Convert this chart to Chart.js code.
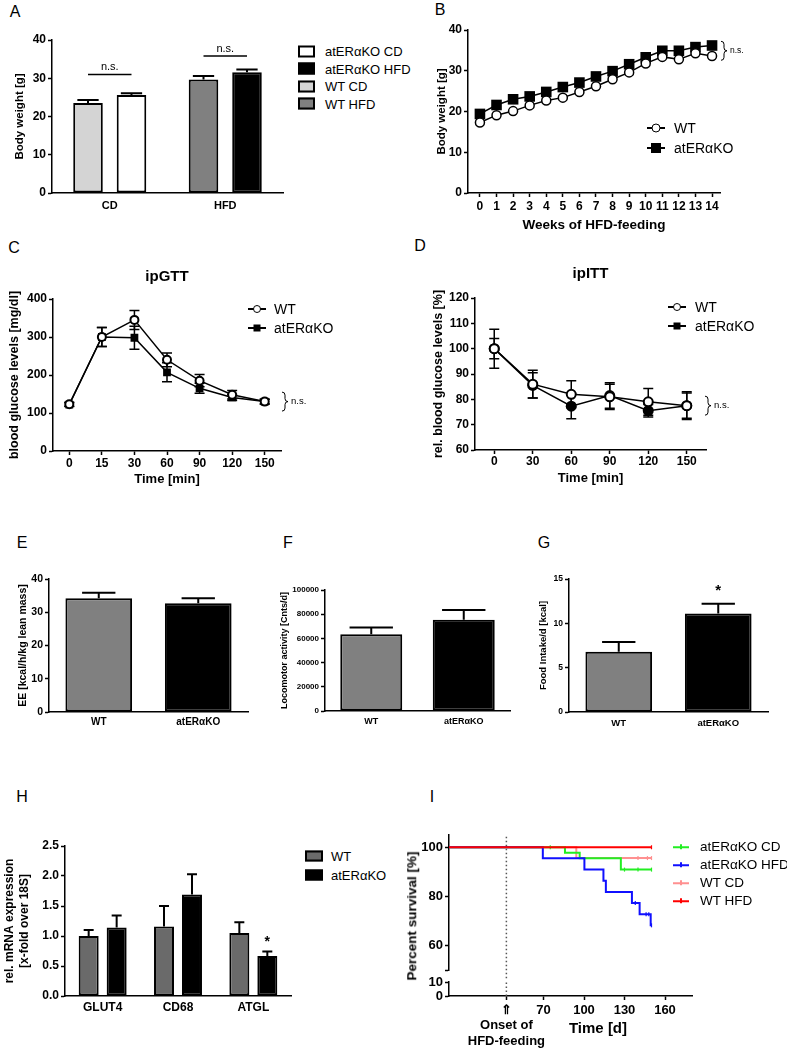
<!DOCTYPE html>
<html>
<head>
<meta charset="utf-8">
<script src="https://cdn.jsdelivr.net/npm/chart.js@4.4.1/dist/chart.umd.min.js"></script>
<style>
  body { margin: 0; width: 787px; height: 1049px; background: #fff; position: relative; overflow: hidden;
         font-family: "Liberation Sans", Arial, sans-serif; color: #000; }
  canvas { position: absolute; }
  .panel { position: absolute; font-size: 16px; line-height: 1; transform: translate(-50%, -50%); }
  .leg { position: absolute; display: flex; align-items: center; white-space: nowrap; line-height: 1; transform: translateY(-50%); }
  .lm { position: relative; display: inline-block; width: 18px; height: 12px; }
  .lm .ln { position: absolute; left: 0; right: 0; top: 5px; height: 2px; background: #000; }
  .lm .pt { position: absolute; left: 50%; top: 50%; transform: translate(-50%, -50%); box-sizing: border-box; }
  .free { position: absolute; font-weight: bold; white-space: nowrap; line-height: 1; }
</style>
</head>
<body>
<canvas id="chartA"></canvas>
<canvas id="chartB"></canvas>
<canvas id="chartC"></canvas>
<canvas id="chartD"></canvas>
<canvas id="chartE"></canvas>
<canvas id="chartF"></canvas>
<canvas id="chartG"></canvas>
<canvas id="chartH"></canvas>
<canvas id="chartI"></canvas>
<canvas id="chartI0"></canvas>

<script>
// ---------- data ----------
const dietGroups = ["CD", "HFD"];
const bwWT = [23.5, 29.7];
const bwWTErr = [0.8, 0.9];
const bwKO = [25.6, 31.6];
const bwKOErr = [0.5, 0.7];
const bwNs = [31.0, 35.8];

const weeks = [0, 1, 2, 3, 4, 5, 6, 7, 8, 9, 10, 11, 12, 13, 14];
const weightWT = [17.3, 19.1, 20.1, 21.5, 22.7, 23.4, 24.8, 26.2, 27.9, 29.6, 31.8, 33.4, 32.8, 34.3, 33.6];
const weightKO = [19.4, 21.6, 23.0, 23.7, 24.8, 26.0, 27.1, 28.6, 29.9, 31.6, 33.3, 34.9, 34.9, 35.8, 36.2];

const gttTimes = ["0", "15", "30", "60", "90", "120", "150"];
const gttWT = [123, 300, 345, 240, 185, 148, 130];
const gttWTErr = [5, 25, 25, 18, 16, 11, 6];
const gttKO = [122, 300, 298, 207, 165, 141, 130];
const gttKOErr = [5, 25, 30, 25, 13, 8, 6];

const ittTimes = ["0", "30", "60", "90", "120", "150"];
const ittWT = [100, 86, 82, 81, 79, 77.5];
const ittWTErr = [4, 5.5, 5.3, 5, 5.3, 5.5];
const ittKO = [100, 85.5, 77.3, 81.5, 75.5, 77.5];
const ittKOErr = [7.7, 5, 5, 5, 2.5, 5];

const genotypes = ["WT", "atERαKO"];
const eeVals = [34.2, 32.7];
const eeErr = [1.7, 1.5];
const locoVals = [63500, 75500];
const locoErr = [5500, 7900];
const foodVals = [6.8, 11.1];
const foodErr = [1.1, 1.1];

const genes = ["GLUT4", "CD68", "ATGL"];
const mrnaWT = [1.0, 1.16, 1.05];
const mrnaWTErr = [0.1, 0.34, 0.18];
const mrnaKO = [1.14, 1.69, 0.665];
const mrnaKOErr = [0.2, 0.34, 0.075];

const onsetDay = 42.5;
const survTicksUpper = [50, 60, 80, 100];
const survTicksLower = [0, 10];
const dayTicks = [onsetDay, 70, 100, 130, 160];
// [day, percent] at each drop; censored days separately
const survKOCD = [[0, 100], [85.9, 97.8], [96.8, 95.5], [127.3, 90.9], [150, 90.9]];
const survKOHFD = [[0, 100], [69.5, 95.5], [100.3, 90.9], [114.4, 86.4], [116.2, 81.8], [135.5, 77.3], [141.2, 72.7], [149.4, 68.2], [150, 68.2]];
const survWTCD = [[0, 100], [94.3, 95.6], [150, 95.6]];
const survWTHFD = [[0, 100], [150, 100]];
const censorKOCD = [75, 130, 140, 150];
const censorKOHFD = [138, 146, 148, 150];
const censorWTCD = [140, 147, 150];
const censorWTHFD = [150];

// ---------- helpers ----------
const FONT = '"Liberation Sans", Arial, sans-serif';
Chart.defaults.font.family = FONT;
Chart.defaults.color = "#000";

function place(id, plot, m) {
  const c = document.getElementById(id);
  c.width = m.l + plot[2] + m.r;
  c.height = m.t + plot[3] + m.b;
  c.style.left = (plot[0] - m.l) + "px";
  c.style.top = (plot[1] - m.t) + "px";
  return c;
}

function yLin(o) {
  const s = {
    min: o.min, max: o.max,
    afterFit: (sc) => { sc.width = o.w; },
    border: { color: "#000", width: 1.5 },
    grid: { drawOnChartArea: false, tickLength: 4, tickColor: "#000", tickWidth: 1.5 },
    ticks: { stepSize: o.step, autoSkip: false, padding: 2, color: "#000",
             font: { size: o.size, weight: "bold" }, callback: o.fmt || ((v) => v) }
  };
  if (o.ticksAt) s.afterBuildTicks = (sc) => { sc.ticks = o.ticksAt.map((v) => ({ value: v })); };
  if (o.title) {
    s.title = { display: true, text: o.title, color: "#000", padding: { top: o.tp, bottom: 0 },
                font: { size: o.ts, weight: "bold" } };
  }
  return s;
}

function xAxis(o) {
  const s = {
    offset: o.offset !== false,
    afterFit: (sc) => { sc.height = o.h; },
    border: { color: "#000", width: 1.5 },
    grid: o.marks
      ? { drawOnChartArea: false, tickLength: 4, tickColor: "#000", tickWidth: 1.5 }
      : { display: false, drawTicks: false },
    ticks: { autoSkip: false, maxRotation: 0, padding: o.pad, color: "#000",
             font: { size: o.size, weight: "bold" } }
  };
  if (o.title) {
    s.title = { display: true, text: o.title, color: "#000", padding: { top: 0, bottom: o.tpad },
                font: { size: o.ts, weight: "bold" } };
  }
  return s;
}

function base(extra) {
  const o = {
    responsive: false,
    animation: false,
    events: []
  };
  Object.assign(o, extra);
  o.plugins = Object.assign({ legend: { display: false }, tooltip: { enabled: false } }, extra.plugins || {});
  return o;
}

function drawBrace(ctx, x, y1, y2, w) {
  const ym = (y1 + y2) / 2, q = w / 2;
  ctx.beginPath();
  ctx.moveTo(x, y1);
  ctx.quadraticCurveTo(x + q, y1, x + q, y1 + q);
  ctx.lineTo(x + q, ym - q);
  ctx.quadraticCurveTo(x + q, ym, x + w, ym);
  ctx.quadraticCurveTo(x + q, ym, x + q, ym + q);
  ctx.lineTo(x + q, y2 - q);
  ctx.quadraticCurveTo(x + q, y2, x, y2);
  ctx.stroke();
}

// Kaplan-Meier points: drops plus censor marks sitting on the current level
function kmPoints(steps, censor) {
  const pts = steps.map(([x, y]) => ({ x, y, c: false }));
  censor.forEach((t) => {
    const level = steps.filter(([x]) => x <= t).pop()[1];
    pts.push({ x: t, y: level, c: true });
  });
  return pts.sort((a, b) => a.x - b.x);
}

// error bars drawn under the marks, from each dataset's own errors array
Chart.register({
  id: "errorBars",
  beforeDatasetsDraw(chart, args, opts) {
    const ctx = chart.ctx, y = chart.scales.y;
    ctx.save();
    ctx.strokeStyle = "#000";
    ctx.lineWidth = opts.lineWidth || 1.5;
    chart.data.datasets.forEach((ds, i) => {
      if (!ds.errors) return;
      chart.getDatasetMeta(i).data.forEach((el, j) => {
        const v = ds.data[j], e = ds.errors[j];
        const top = y.getPixelForValue(v + e);
        const bot = y.getPixelForValue(opts.upOnly ? v : v - e);
        const half = opts.cap || (el.width * opts.capFrac) / 2;
        ctx.beginPath();
        ctx.moveTo(el.x, top); ctx.lineTo(el.x, bot);
        ctx.moveTo(el.x - half, top); ctx.lineTo(el.x + half, top);
        if (!opts.upOnly) { ctx.moveTo(el.x - half, bot); ctx.lineTo(el.x + half, bot); }
        ctx.stroke();
      });
    });
    ctx.restore();
  }
});

// n.s. lines, braces and stars
Chart.register({
  id: "notes",
  afterDatasetsDraw(chart, args, opts) {
    const items = opts.items || [];
    const { ctx, chartArea } = chart;
    const y = chart.scales.y;
    ctx.save();
    ctx.strokeStyle = "#000";
    ctx.fillStyle = "#000";
    items.forEach((it) => {
      if (it.type === "sig") {
        const a = chart.getDatasetMeta(0).data[it.cat], b = chart.getDatasetMeta(1).data[it.cat];
        const py = y.getPixelForValue(it.y);
        ctx.lineWidth = 1.5;
        ctx.beginPath(); ctx.moveTo(a.x, py); ctx.lineTo(b.x, py); ctx.stroke();
        ctx.font = it.size + "px " + FONT;
        ctx.textAlign = "center"; ctx.textBaseline = "bottom";
        ctx.fillText(it.text, (a.x + b.x) / 2, py - 2);
      } else if (it.type === "brace") {
        const ends = chart.data.datasets.slice(0, 2).map((ds) => {
          const last = ds.data[ds.data.length - 1];
          return y.getPixelForValue(typeof last === "object" ? last.y : last);
        });
        const mid = (ends[0] + ends[1]) / 2;
        const x0 = chartArea.right + it.dx;
        ctx.lineWidth = 1;
        drawBrace(ctx, x0, mid - it.h / 2, mid + it.h / 2, 6);
        ctx.font = it.size + "px " + FONT;
        ctx.textAlign = "left"; ctx.textBaseline = "middle";
        ctx.fillText(it.text, x0 + 9, mid);
      } else if (it.type === "star") {
        const ds = chart.data.datasets[it.ds];
        const el = chart.getDatasetMeta(it.ds).data[it.index];
        const py = y.getPixelForValue(ds.data[it.index] + ds.errors[it.index]) - it.gap;
        ctx.font = "bold " + it.size + "px " + FONT;
        ctx.textAlign = "center"; ctx.textBaseline = "middle";
        ctx.fillText(it.text, el.x, py);
      }
    });
    ctx.restore();
  }
});

function addText(cls, html, x, y, style) {
  const d = document.createElement("div");
  d.className = cls;
  d.innerHTML = html;
  d.style.left = x + "px";
  d.style.top = y + "px";
  if (style) Object.assign(d.style, style);
  document.body.appendChild(d);
  return d;
}

function legend(x, y, step, size, rows) {
  rows.forEach((r, i) => {
    addText("leg", r.mark + "<span>" + r.text + "</span>", x, y + i * step, { fontSize: size + "px" });
  });
}
const box = (c, w, h, gap) =>
  `<i style="display:inline-block;box-sizing:border-box;width:${w}px;height:${h}px;border:2px solid #000;background:${c};margin-right:${gap}px"></i>`;
const linePt = (shape, s, gap) =>
  `<i class="lm" style="margin-right:${gap}px"><b class="ln"></b><b class="pt" style="width:${s}px;height:${s}px;` +
  (shape === "circle" ? "border:1.5px solid #000;background:#fff;border-radius:50%" : "background:#000") + `"></b></i>`;
const colLine = (c, gap) =>
  `<i style="position:relative;display:inline-block;width:16px;height:2px;background:${c};margin-right:${gap}px">` +
  `<b style="position:absolute;left:7px;top:-1.5px;width:1.5px;height:5px;background:${c}"></b></i>`;

// ---------- panel letters ----------
[["A", 15, 12], ["B", 440, 10], ["C", 14, 248], ["D", 420, 246], ["E", 22, 543],
 ["F", 288, 543], ["G", 544, 543], ["H", 22, 797], ["I", 432, 797]].forEach(([t, x, y]) => addText("panel", t, x, y));

// ---------- A: body weight bars ----------
new Chart(place("chartA", [52, 40, 231, 153], { l: 52, t: 12, r: 6, b: 26 }), {
  type: "bar",
  data: {
    labels: dietGroups,
    datasets: [
      { label: "WT", data: bwWT, errors: bwWTErr, backgroundColor: ["#d4d4d4", "#808080"],
        borderColor: "#000", borderWidth: 2, borderSkipped: false, categoryPercentage: 0.753, barPercentage: 0.68 },
      { label: "atERαKO", data: bwKO, errors: bwKOErr, backgroundColor: ["#ffffff", "#000000"],
        borderColor: "#000", borderWidth: 2, borderSkipped: false, categoryPercentage: 0.753, barPercentage: 0.68 }
    ]
  },
  options: base({
    layout: { padding: { top: 12, right: 6 } },
    scales: {
      x: xAxis({ h: 26, size: 11, pad: 6 }),
      y: yLin({ w: 52, min: 0, max: 40, step: 10, size: 12, title: "Body weight [g]", ts: 11.5, tp: 13 })
    },
    plugins: {
      errorBars: { upOnly: true, capFrac: 0.72, lineWidth: 2 },
      notes: { items: bwNs.map((v, i) => ({ type: "sig", cat: i, y: v, text: "n.s.", size: 11 })) }
    }
  })
});
legend(298, 51, 17.6, 13, [
  { mark: box("#fff", 17, 12, 10), text: "atERαKO CD" },
  { mark: box("#000", 17, 12, 10), text: "atERαKO HFD" },
  { mark: box("#d4d4d4", 17, 12, 10), text: "WT CD" },
  { mark: box("#808080", 17, 12, 10), text: "WT HFD" }
]);

// ---------- B: weight curve ----------
new Chart(place("chartB", [468, 30, 252, 163], { l: 50, t: 12, r: 45, b: 42 }), {
  type: "line",
  data: {
    datasets: [
      { label: "WT", data: weeks.map((w, i) => ({ x: w, y: weightWT[i] })), borderColor: "#000", borderWidth: 1.5,
        pointStyle: "circle", pointRadius: 4.5, pointBorderWidth: 1.5, pointBackgroundColor: "#fff", pointBorderColor: "#000" },
      { label: "atERαKO", data: weeks.map((w, i) => ({ x: w, y: weightKO[i] })), borderColor: "#000", borderWidth: 1.5,
        pointStyle: "rect", pointRadius: 7.5, pointBorderWidth: 0, pointBackgroundColor: "#000" }
    ]
  },
  options: base({
    layout: { padding: { top: 12, right: 45 } },
    scales: {
      x: Object.assign(xAxis({ h: 42, size: 12, pad: 2, marks: true, offset: false, title: "Weeks of HFD-feeding", ts: 13.5, tpad: 2 }),
        { type: "linear", min: -0.72, max: 14.48, afterBuildTicks: (sc) => { sc.ticks = weeks.map((v) => ({ value: v })); } }),
      y: yLin({ w: 50, min: 0, max: 40, step: 10, size: 12, title: "Body weight [g]", ts: 11.5, tp: 17 })
    },
    plugins: { notes: { items: [{ type: "brace", dx: 1, h: 19, text: "n.s.", size: 8.5 }] } }
  })
});
legend(647, 128, 20, 14, [
  { mark: linePt("circle", 9, 9), text: "WT" },
  { mark: linePt("rect", 10, 9), text: "atERαKO" }
]);

// ---------- C: ipGTT ----------
new Chart(place("chartC", [53, 299, 228, 152], { l: 53, t: 40, r: 40, b: 40 }), {
  type: "line",
  data: {
    labels: gttTimes,
    datasets: [
      { label: "WT", data: gttWT, errors: gttWTErr, borderColor: "#000", borderWidth: 1.5,
        pointStyle: "circle", pointRadius: 4, pointBorderWidth: 2, pointBackgroundColor: "#fff", pointBorderColor: "#000" },
      { label: "atERαKO", data: gttKO, errors: gttKOErr, borderColor: "#000", borderWidth: 1.5,
        pointStyle: "rect", pointRadius: 5.5, pointBorderWidth: 0, pointBackgroundColor: "#000" }
    ]
  },
  options: base({
    layout: { padding: { top: 0, right: 40 } },
    scales: {
      x: xAxis({ h: 40, size: 12, pad: 1, marks: true, title: "Time [min]", ts: 13, tpad: 4 }),
      y: yLin({ w: 53, min: 0, max: 400, step: 100, size: 12, title: "blood glucose levels [mg/dl]", ts: 12.5, tp: 7.5 })
    },
    plugins: {
      title: { display: true, text: "ipGTT", fullSize: false, color: "#000", padding: { top: 9, bottom: 13 }, font: { size: 15, weight: "bold" } },
      errorBars: { cap: 5, lineWidth: 1.5 },
      notes: { items: [{ type: "brace", dx: 1, h: 19, text: "n.s.", size: 9.5 }] }
    }
  })
});
legend(248, 309, 19, 14, [
  { mark: linePt("circle", 8, 8), text: "WT" },
  { mark: linePt("rect", 7, 8), text: "atERαKO" }
]);

// ---------- D: ipITT ----------
new Chart(place("chartD", [475, 298, 231, 152], { l: 45, t: 40, r: 45, b: 40 }), {
  type: "line",
  data: {
    labels: ittTimes,
    datasets: [
      { label: "WT", data: ittWT, errors: ittWTErr, borderColor: "#000", borderWidth: 1.5,
        pointStyle: "circle", pointRadius: 4.5, pointBorderWidth: 2, pointBackgroundColor: "#fff", pointBorderColor: "#000" },
      { label: "atERαKO", data: ittKO, errors: ittKOErr, borderColor: "#000", borderWidth: 1.5,
        pointStyle: "circle", pointRadius: 5.5, pointBorderWidth: 0, pointBackgroundColor: "#000" }
    ]
  },
  options: base({
    layout: { padding: { top: 0, right: 45 } },
    scales: {
      x: xAxis({ h: 40, size: 12, pad: 0.5, marks: true, title: "Time [min]", ts: 13, tpad: 4 }),
      y: yLin({ w: 45, min: 60, max: 120, step: 10, size: 12, title: "rel. blood glucose levels [%]", ts: 12.5, tp: 1.5 })
    },
    plugins: {
      title: { display: true, text: "ipITT", fullSize: false, color: "#000", padding: { top: 7, bottom: 15 }, font: { size: 15, weight: "bold" } },
      errorBars: { cap: 5, lineWidth: 1.5 },
      notes: { items: [{ type: "brace", dx: -1, h: 19, text: "n.s.", size: 9.5 }] }
    }
  })
});
legend(668, 307, 19, 14, [
  { mark: linePt("circle", 8, 9), text: "WT" },
  { mark: linePt("rect", 7, 9), text: "atERαKO" }
]);

// ---------- E, F, G: two-bar panels ----------
function twoBars(id, plot, m, vals, errs, y, xs, capFrac, extraNotes) {
  return new Chart(place(id, plot, m), {
    type: "bar",
    data: {
      labels: genotypes,
      datasets: [{ data: vals, errors: errs, backgroundColor: ["#808080", "#000000"], borderColor: "#000",
                   borderWidth: 2, borderSkipped: false, categoryPercentage: 1, barPercentage: 0.67 }]
    },
    options: base({
      layout: { padding: { top: m.t, right: m.r } },
      scales: { x: xAxis(xs), y: yLin(y) },
      plugins: { errorBars: { upOnly: true, capFrac: capFrac, lineWidth: 2 }, notes: { items: extraNotes || [] } }
    })
  });
}
twoBars("chartE", [49, 579, 199, 133], { l: 49, t: 12, r: 6, b: 24 }, eeVals, eeErr,
  { w: 49, min: 0, max: 40, step: 10, size: 10.5, title: "EE [kcal/h/kg lean mass]", ts: 10.5, tp: 16.5 },
  { h: 24, size: 10, pad: 4 }, 0.5);
twoBars("chartF", [325, 590, 185, 121], { l: 50, t: 12, r: 6, b: 24 }, locoVals, locoErr,
  { w: 50, min: 0, max: 100000, step: 20000, size: 8, title: "Locomotor activity [Cnts/d]", ts: 9, tp: 4.5 },
  { h: 24, size: 9, pad: 5.5 }, 0.7);
twoBars("chartG", [569, 579, 199, 133], { l: 40, t: 20, r: 6, b: 24 }, foodVals, foodErr,
  { w: 40, min: 0, max: 15, step: 5, size: 8.5, title: "Food Intake/d [kcal]", ts: 9.5, tp: 8.3 },
  { h: 24, size: 9.5, pad: 5.3 }, 0.5,
  [{ type: "star", ds: 0, index: 1, text: "*", gap: 13, size: 15 }]);

// ---------- H: mRNA ----------
new Chart(place("chartH", [65, 846, 226, 150], { l: 65, t: 12, r: 6, b: 24 }), {
  type: "bar",
  data: {
    labels: genes,
    datasets: [
      { label: "WT", data: mrnaWT, errors: mrnaWTErr, backgroundColor: "#6a6a6a", borderColor: "#000",
        borderWidth: 2, borderSkipped: false, categoryPercentage: 0.743, barPercentage: 0.714 },
      { label: "atERαKO", data: mrnaKO, errors: mrnaKOErr, backgroundColor: "#000", borderColor: "#000",
        borderWidth: 2, borderSkipped: false, categoryPercentage: 0.743, barPercentage: 0.714 }
    ]
  },
  options: base({
    layout: { padding: { top: 12, right: 6 } },
    scales: {
      x: xAxis({ h: 24, size: 12, pad: 4.8 }),
      y: yLin({ w: 65, min: 0, max: 2.5, step: 0.5, size: 12, fmt: (v) => v.toFixed(1),
                title: ["rel. mRNA expression", "[x-fold over 18S]"], ts: 12, tp: 2.8 })
    },
    plugins: {
      errorBars: { upOnly: true, capFrac: 0.5, lineWidth: 2 },
      notes: { items: [{ type: "star", ds: 1, index: 2, text: "*", gap: 9, size: 14 }] }
    }
  })
});
legend(305, 856, 19, 13, [
  { mark: box("#6a6a6a", 18, 11, 8), text: "WT" },
  { mark: box("#000", 18, 11, 8), text: "atERαKO" }
]);

// ---------- I: survival (broken y axis: upper 50-105, lower 0-10) ----------
const survSeries = [
  { label: "atERαKO CD", pts: survKOCD, censor: censorKOCD, color: "#22ee22", order: 2 },
  { label: "atERαKO HFD", pts: survKOHFD, censor: censorKOHFD, color: "#1010ff", order: 1 },
  { label: "WT CD", pts: survWTCD, censor: censorWTCD, color: "#ff9090", order: 3 },
  { label: "WT HFD", pts: survWTHFD, censor: censorWTHFD, color: "#ff0000", order: 0 }
];
new Chart(place("chartI", [449, 835, 243, 135], { l: 45, t: 10, r: 6, b: 10 }), {
  type: "line",
  data: {
    datasets: survSeries.map((s) => ({
      label: s.label, data: kmPoints(s.pts, s.censor), borderColor: s.color, borderWidth: 2,
      stepped: "before", order: s.order, clip: false,
      pointStyle: "line", rotation: 90, pointBorderColor: s.color, pointBorderWidth: 1.2,
      pointRadius: (c) => (c.raw && c.raw.c ? 2 : 0)
    })).concat([{
      label: "onset", data: [{ x: onsetDay, y: 45 }, { x: onsetDay, y: 105 }], borderColor: "#555",
      borderWidth: 1.5, borderDash: [1.5, 2.5], pointRadius: 0, clip: false, order: 9
    }])
  },
  options: base({
    layout: { padding: { top: 10, right: 6, bottom: 10 } },
    scales: {
      x: { type: "linear", min: 0, max: 180, display: false },
      y: yLin({ w: 45, min: 50, max: 105, size: 13, ticksAt: survTicksUpper, fmt: (v) => (v === 50 ? "" : v) })
    }
  })
});
new Chart(place("chartI0", [449, 982, 243, 14], { l: 45, t: 20, r: 6, b: 60 }), {
  type: "line",
  data: {
    datasets: [{ label: "onset", data: [{ x: onsetDay, y: 0 }, { x: onsetDay, y: 10 }], borderColor: "#555",
                 borderWidth: 1.5, borderDash: [1.5, 2.5], pointRadius: 0, clip: false }]
  },
  options: base({
    layout: { padding: { top: 20, right: 6 } },
    scales: {
      x: Object.assign(xAxis({ h: 60, size: 13, pad: 2.2, marks: true, offset: false }), {
        type: "linear", min: 0, max: 180,
        afterBuildTicks: (sc) => { sc.ticks = dayTicks.map((v) => ({ value: v })); },
        ticks: { autoSkip: false, maxRotation: 0, padding: 2.2, color: "#000", font: { size: 13, weight: "bold" },
                 callback: (v) => (v === onsetDay ? ["⇑", "Onset of", "HFD-feeding"] : v) }
      }),
      y: yLin({ w: 45, min: 0, max: 10, size: 13, ticksAt: survTicksLower })
    }
  })
});
addText("free", "Percent survival [%]", 412, 916, { fontSize: "13.5px", transform: "translate(-50%,-50%) rotate(-90deg)" });
addText("free", "Time [d]", 598, 1027, { fontSize: "15px", transform: "translate(-50%,-50%)" });
legend(673, 847, 18, 13.5, survSeries.map((s) => ({ mark: colLine(s.color, 11), text: s.label })));
</script>
</body>
</html>
